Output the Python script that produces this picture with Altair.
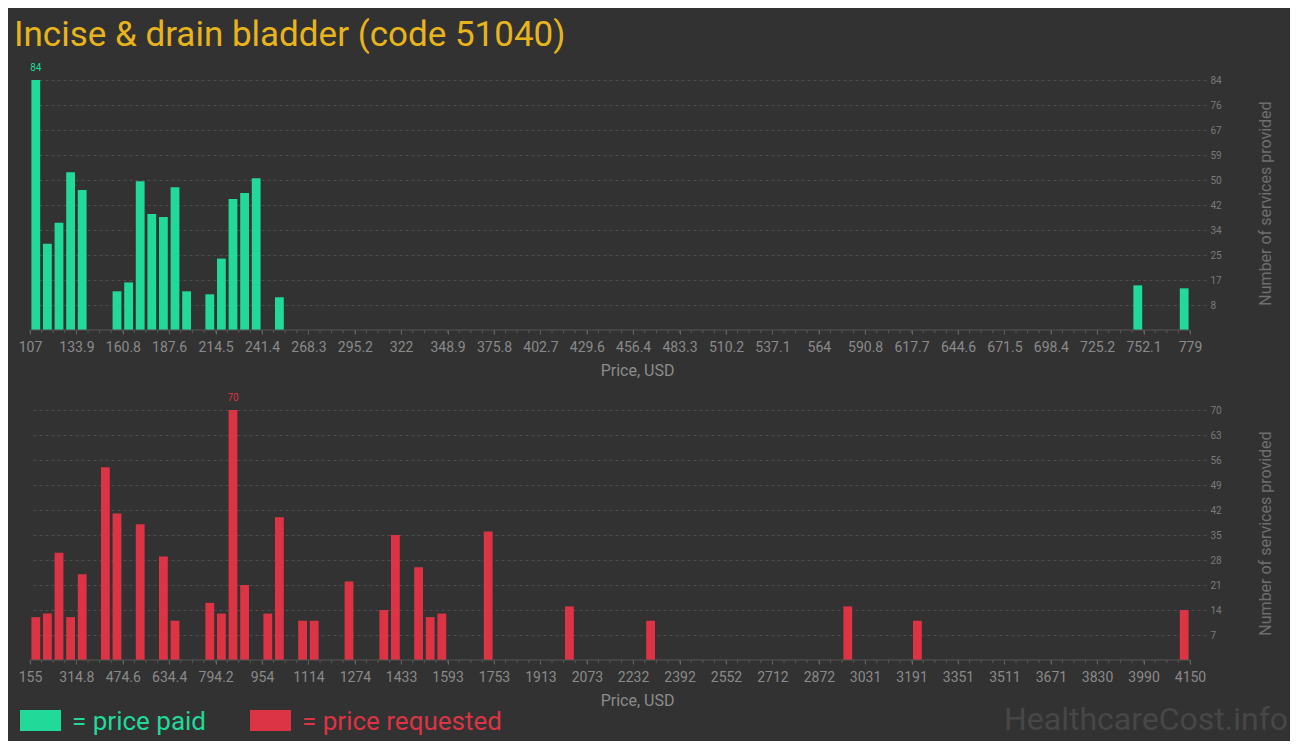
import altair as alt
import pandas as pd

TITLE = "Incise & drain bladder (code 51040)"
X_TITLE = "Price, USD"
Y_TITLE = "Number of services provided"
LEGEND_LABELS = ["= price paid", "= price requested"]
WATERMARK = "HealthcareCost.info"

# price paid histogram (100 equal bins between first and last tick)
paid_ticks = ["107", "133.9", "160.8", "187.6", "214.5", "241.4", "268.3", "295.2", "322",
              "348.9", "375.8", "402.7", "429.6", "456.4", "483.3", "510.2", "537.1", "564",
              "590.8", "617.7", "644.6", "671.5", "698.4", "725.2", "752.1", "779"]
paid_bins = [0, 1, 2, 3, 4, 7, 8, 9, 10, 11, 12, 13, 15, 16, 17, 18, 19, 21, 95, 99]
paid_counts = [84, 29, 36, 53, 47, 13, 16, 50, 39, 38, 48, 13, 12, 24, 44, 46, 51, 11, 15, 14]

# price requested histogram
req_ticks = ["155", "314.8", "474.6", "634.4", "794.2", "954", "1114", "1274", "1433", "1593",
             "1753", "1913", "2073", "2232", "2392", "2552", "2712", "2872", "3031", "3191",
             "3351", "3511", "3671", "3830", "3990", "4150"]
req_bins = [0, 1, 2, 3, 4, 6, 7, 9, 11, 12, 15, 16, 17, 18, 20, 21, 23, 24, 27, 30, 31, 33, 34,
            35, 39, 46, 53, 70, 76, 99]
req_counts = [12, 13, 30, 12, 24, 54, 41, 38, 29, 11, 16, 13, 70, 21, 13, 40, 11, 11, 22, 14, 35,
              26, 12, 13, 36, 15, 11, 15, 11, 14]

GREEN = "#21d998"
RED = "#dc3444"
GOLD = "#e8b41e"
BG = "#323232"
N_BINS = 100
W, H = 1176, 250
SPAN = 1160  # pixels between first and last tick
FONT = "Roboto"


def panel(bins, counts, ticks, color):
    tvals = [float(t) for t in ticks]
    lo, hi = tvals[0], tvals[-1]
    bw = (hi - lo) / N_BINS
    dom = [lo, lo + (hi - lo) * W / SPAN]
    ymax = max(counts)
    yvals = [ymax * k / 10 for k in range(1, 11)]
    xs = alt.Scale(domain=dom, nice=False, zero=False, padding=0)
    ys = alt.Scale(domain=[0, ymax], nice=False, zero=True, padding=0)

    df = pd.DataFrame({"bin": bins, "y": counts})
    df["x"] = lo + (df["bin"] + 0.12) * bw
    df["x2"] = lo + (df["bin"] + 0.88) * bw
    df["xc"] = lo + (df["bin"] + 0.5) * bw
    df["y0"] = 0

    xaxis = alt.Axis(values=tvals, format=".4~r", domain=False, grid=False,
                     tickSize=4, tickColor="#6a6a6a", tickWidth=1,
                     labelFont=FONT, labelFontSize=14, labelColor="#8a8a8a",
                     labelPadding=6, labelOverlap=False, labelFlush=False,
                     title=X_TITLE, titleFont=FONT, titleFontSize=16,
                     titleFontWeight="normal", titleColor="#8c8c8c",
                     titleX=607, titleY=40, titleBaseline="middle", titleAlign="center")
    yaxis = alt.Axis(orient="right", values=yvals, format=".0f", domain=False, ticks=False,
                     grid=True, gridColor="#4e4e4e", gridDash=[3, 3], gridWidth=1,
                     labelFont=FONT, labelFontSize=10, labelColor="#7a7a7a", labelPadding=4,
                     title=Y_TITLE, titleAngle=270, titleFont=FONT, titleFontSize=16,
                     titleFontWeight="normal", titleColor="#6e6e6e",
                     titleX=59, titleY=H / 2 - 2, titleBaseline="middle", titleAlign="center")
    X = alt.X("x:Q", scale=xs, axis=xaxis)
    Y = alt.Y("y:Q", scale=ys, axis=yaxis)

    bars = alt.Chart(df).mark_bar(color=color, orient="vertical").encode(
        x=X, x2="x2:Q", y=Y, y2="y0:Q",
    )
    base = alt.Chart(pd.DataFrame({"x": [lo], "x2": [hi]})).mark_rule(
        color="#555555", strokeWidth=1
    ).encode(x=X, x2="x2:Q", y=alt.value(H))
    edges = pd.DataFrame({"x": [lo + k * bw for k in range(N_BINS + 1)]})
    minor = alt.Chart(edges).mark_rule(color="#575757", strokeWidth=1).encode(
        x=X, y=alt.value(H), y2=alt.value(H + 3)
    )
    top = df[df["y"] == ymax][["xc", "y"]].rename(columns={"xc": "x"})
    peak = alt.Chart(top).mark_text(
        color=color, font=FONT, fontSize=10, baseline="bottom", dy=-7
    ).encode(x=X, y=Y, text="y:Q")
    return [bars, base, minor, peak]


top_layers = panel(paid_bins, paid_counts, paid_ticks, GREEN)
bot_layers = panel(req_bins, req_counts, req_ticks, RED)

# invisible layout anchor (fixes the top-left corner of the drawing)
anchor = alt.Chart(pd.DataFrame({"a": [0]})).mark_rect(opacity=0).encode(
    x=alt.value(-21), x2=alt.value(-20), y=alt.value(-70), y2=alt.value(-69))

title = alt.Chart(pd.DataFrame({"t": [TITLE]})).mark_text(
    font=FONT, fontSize=35, color=GOLD, align="left", baseline="alphabetic"
).encode(x=alt.value(-16), y=alt.value(-34), text="t:N")

leg_df = pd.DataFrame({"t": LEGEND_LABELS})
leg_rect1 = alt.Chart(leg_df.iloc[[0]]).mark_rect(color=GREEN).encode(
    x=alt.value(-10), x2=alt.value(31), y=alt.value(H + 50), y2=alt.value(H + 71))
leg_text1 = alt.Chart(leg_df.iloc[[0]]).mark_text(
    font=FONT, fontSize=26, color=GREEN, align="left", baseline="alphabetic"
).encode(x=alt.value(42), y=alt.value(H + 70), text="t:N")
leg_rect2 = alt.Chart(leg_df.iloc[[1]]).mark_rect(color=RED).encode(
    x=alt.value(220), x2=alt.value(261), y=alt.value(H + 50), y2=alt.value(H + 71))
leg_text2 = alt.Chart(leg_df.iloc[[1]]).mark_text(
    font=FONT, fontSize=26, color=RED, align="left", baseline="alphabetic"
).encode(x=alt.value(272), y=alt.value(H + 70), text="t:N")
wm = alt.Chart(pd.DataFrame({"t": [WATERMARK]})).mark_text(
    font=FONT, fontSize=32, color="#474747", align="right", baseline="alphabetic"
).encode(x=alt.value(1258), y=alt.value(H + 70), text="t:N")

top_chart = alt.layer(*top_layers, anchor, title).properties(width=W, height=H)
bot_chart = alt.layer(*bot_layers, leg_rect1, leg_text1, leg_rect2, leg_text2, wm).properties(
    width=W, height=H)

chart = alt.vconcat(top_chart, bot_chart, spacing=80, bounds="flush").properties(
    padding={"left": 1, "top": 2, "right": 2, "bottom": 5},
    background=BG,
).configure(font=FONT).configure_view(strokeWidth=0)

chart.save("out.html", embed_options={"renderer": "svg", "actions": False})
